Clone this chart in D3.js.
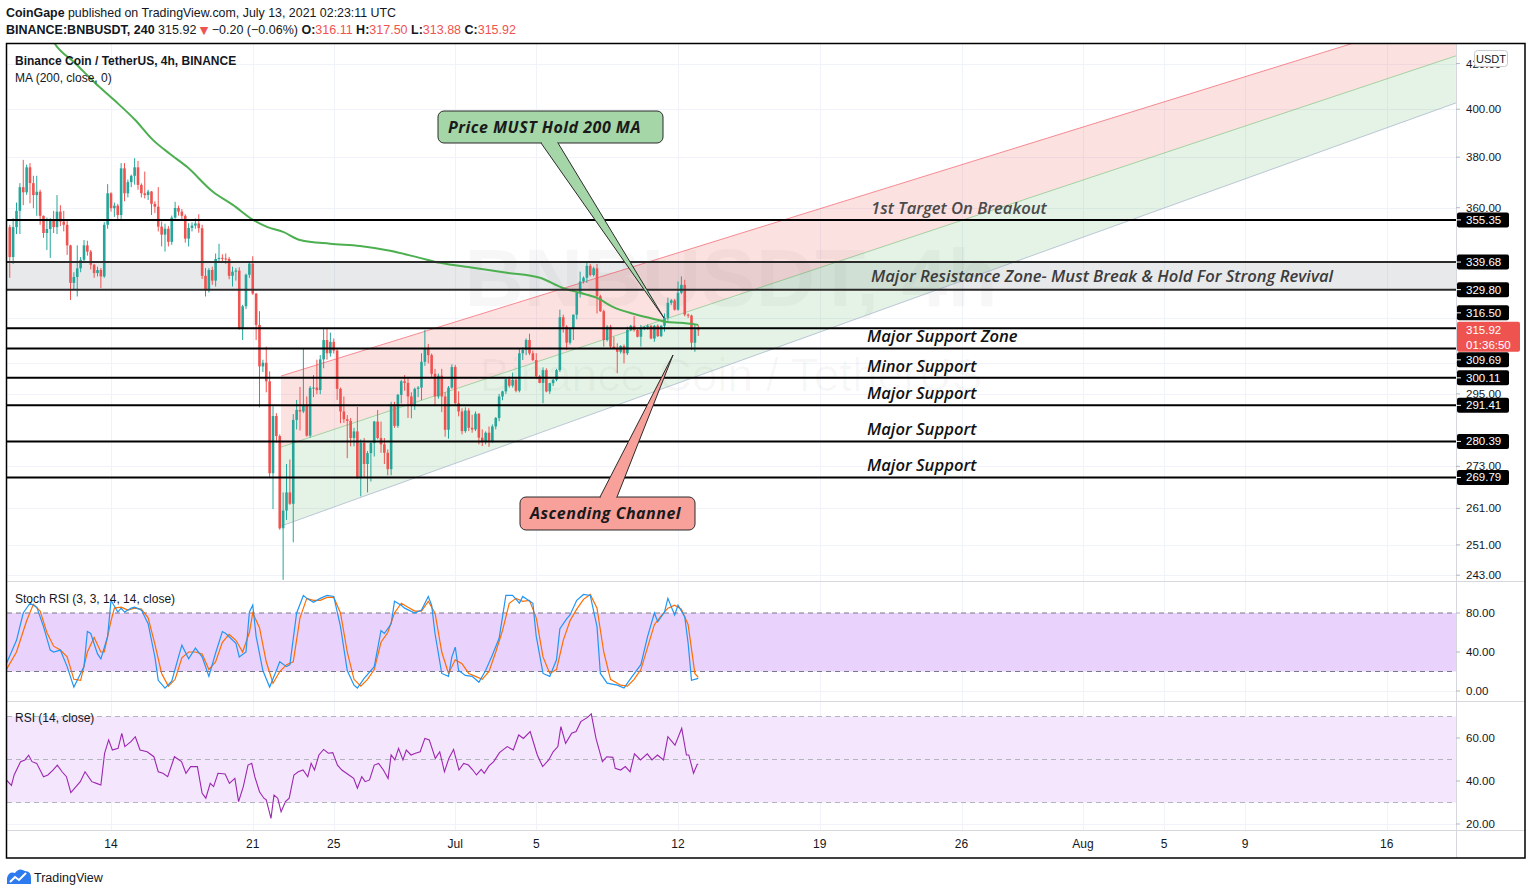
<!DOCTYPE html>
<html><head><meta charset="utf-8">
<script src="https://cdnjs.cloudflare.com/ajax/libs/d3/7.8.5/d3.min.js"></script>
<style>
html,body{margin:0;padding:0;background:#fff;}
svg{display:block;font-family:"Liberation Sans",Arial,sans-serif;}
</style></head><body>
<svg id="chart" width="1531" height="895"></svg>
<script>
// ---------------- DATA ----------------
const publisher = "CoinGape";
const publishedAt = "July 13, 2021 02:23:11 UTC";
const symbolLine = "BINANCE:BNBUSDT, 240";
const chartTitle = "Binance Coin / TetherUS, 4h, BINANCE";
const maTitle = "MA (200, close, 0)";
const stochTitle = "Stoch RSI (3, 3, 14, 14, close)";
const rsiTitle = "RSI (14, close)";
const lastChange = "\u22120.20 (\u22120.06%)";
const countdown = "01:36:50";
const candleStart = "2021-06-09T00:00:00Z";   // first 4h bar
const barHours = 4;

const opens = [
352.6,341.5,352.6,358.8,368.0,366.0,375.9,369.6,364.9,366.2,
356.9,350.4,351.9,355.4,352.6,358.5,354.7,353.5,345.8,332.2,
334.3,337.4,340.5,345.8,343.5,338.7,335.7,336.8,334.5,353.5,
365.6,359.8,360.8,357.2,375.5,365.6,370.0,372.5,375.9,368.9,
365.6,364.9,366.3,361.5,360.4,352.8,349.8,352.0,347.1,356.2,
359.9,358.5,356.9,348.3,352.3,353.2,354.0,352.2,334.7,329.5,
336.8,333.0,340.8,341.2,341.0,340.8,334.7,336.2,336.6,316.4,
324.0,335.1,339.1,328.4,317.6,303.8,305.0,299.0,271.0,288.1,
282.0,255.5,260.4,265.5,262.3,286.9,290.0,289.5,291.6,282.1,
296.9,297.0,296.2,306.1,312.5,308.1,311.9,309.0,296.6,289.5,
287.1,286.6,281.4,283.4,269.6,279.9,273.7,276.9,279.9,286.4,
281.4,279.5,277.0,272.2,291.6,285.1,294.7,299.0,298.5,294.2,
291.5,296.6,297.0,305.3,309.8,307.5,301.4,294.2,300.8,294.2,
283.9,297.0,303.6,292.1,289.5,283.5,289.8,284.5,284.0,288.8,
281.5,280.2,283.0,280.5,284.9,287.5,294.2,295.8,299.7,297.6,
299.5,296.0,308.1,309.2,312.5,308.1,305.9,300.6,298.5,302.6,
295.8,298.4,299.5,302.6,320.2,317.0,311.6,316.4,321.1,328.7,
332.7,334.0,338.3,335.0,337.4,327.5,322.3,312.5,317.0,310.3,
309.8,308.6,310.5,308.1,315.9,317.3,315.9,313.6,316.4,316.9,
317.3,313.0,317.3,313.8,317.3,320.0,325.2,326.0,322.8,328.7,
331.5,321.1,320.8,311.6,316.11];
const highs = [
353.5,356.0,362.0,369.6,378.9,377.0,377.6,372.5,372.5,367.0,
357.0,356.2,356.0,358.8,364.9,361.0,358.8,355.4,346.0,336.0,
345.8,341.5,347.8,347.5,344.1,339.0,338.0,337.5,354.5,369.2,
366.0,362.0,361.5,377.6,377.6,371.0,373.0,379.6,378.5,369.5,
374.2,367.0,366.5,362.5,368.0,354.7,353.9,353.0,357.0,362.3,
360.8,359.5,357.5,354.1,354.4,355.9,357.5,353.5,337.5,337.5,
338.0,342.8,346.4,342.5,342.8,341.5,338.0,337.5,337.8,324.5,
335.5,339.5,341.8,328.6,322.3,306.0,310.3,302.2,291.1,289.0,
282.5,265.5,273.7,275.0,288.7,293.1,297.2,309.8,294.2,297.5,
301.0,306.0,307.5,316.4,316.4,315.0,313.0,309.8,297.0,294.2,
288.4,287.5,284.5,290.9,281.0,281.4,277.5,280.5,286.6,290.0,
286.4,281.4,278.0,292.5,292.5,295.0,299.5,301.0,300.0,295.5,
297.0,297.5,308.1,315.9,311.2,308.0,303.0,301.5,303.0,295.5,
297.5,304.5,304.3,295.8,290.5,290.8,290.5,288.5,289.5,289.0,
284.0,283.4,284.9,285.5,287.8,295.0,296.0,300.0,300.5,301.8,
300.0,309.5,310.0,313.0,314.6,309.0,308.1,301.0,303.5,303.2,
298.5,299.8,303.0,322.8,321.1,317.5,316.5,321.1,329.3,336.2,
334.5,340.0,339.0,338.0,339.0,328.0,322.8,317.5,317.6,313.6,
311.4,310.8,311.0,317.0,317.6,320.6,316.5,317.6,317.2,317.8,
317.6,317.6,317.8,317.5,321.5,327.0,326.5,326.5,332.7,334.5,
333.3,321.5,321.1,317.6,317.5];
const lows = [
334.0,339.0,350.0,350.0,361.0,365.0,361.7,359.8,356.9,353.5,
348.6,344.1,341.2,350.4,350.0,353.0,351.0,342.3,326.2,330.0,
327.4,336.0,340.0,342.0,337.0,334.0,334.5,330.4,334.0,352.0,
358.5,356.5,355.0,355.0,362.5,364.0,368.0,369.0,367.0,364.0,
363.6,363.0,357.2,358.0,351.0,345.4,343.5,345.4,346.0,355.8,
357.0,355.5,346.8,345.4,351.0,352.0,350.5,333.6,327.4,328.8,
331.5,330.9,340.0,339.8,339.0,333.5,330.9,333.0,316.0,312.5,
323.0,334.0,328.0,312.5,290.8,302.0,295.5,269.6,260.8,280.0,
255.1,241.8,257.8,262.0,251.7,284.0,283.7,289.0,281.8,281.5,
294.0,294.9,294.9,303.2,306.0,307.0,308.0,293.1,285.9,286.0,
275.4,278.9,278.9,269.4,264.4,269.6,265.5,268.6,275.9,281.0,
277.0,273.7,270.4,270.4,284.5,284.5,292.0,296.0,287.5,287.4,
290.0,294.0,293.0,304.0,304.8,300.4,291.6,293.5,289.3,281.8,
281.2,296.6,291.5,288.0,282.5,283.0,283.5,283.0,283.5,279.5,
279.0,279.5,278.8,280.0,284.0,286.5,293.0,295.0,297.0,297.0,
295.5,295.5,305.9,307.5,307.5,305.5,299.7,298.4,292.1,295.5,
295.0,297.5,299.0,302.0,315.0,309.2,311.0,312.5,319.5,327.0,
332.0,332.2,334.5,334.5,321.5,322.0,310.3,312.0,309.8,309.5,
301.6,308.0,304.8,307.5,315.5,315.3,313.4,310.3,315.8,316.0,
312.8,311.9,313.5,313.5,315.3,319.0,324.5,322.5,322.5,328.2,
320.5,320.0,309.2,308.6,313.88];
const closes = [
341.5,352.6,358.8,368.0,366.0,375.9,369.6,364.9,366.2,356.9,
350.4,351.9,355.4,352.6,358.5,354.7,353.5,345.8,332.2,334.3,
337.4,340.5,345.8,343.5,338.7,335.7,336.8,334.5,353.5,365.6,
359.8,360.8,357.2,375.5,365.6,370.0,372.5,375.9,368.9,365.6,
364.9,366.3,361.5,360.4,352.8,349.8,352.0,347.1,356.2,359.9,
358.5,356.9,348.3,352.3,353.2,354.0,352.2,334.7,329.5,336.8,
333.0,340.8,341.2,341.0,340.8,334.7,336.2,336.6,316.4,324.0,
335.1,339.1,328.4,317.6,303.8,305.0,299.0,271.0,288.1,282.0,
255.5,260.4,265.5,262.3,286.9,290.0,289.5,291.6,282.1,296.9,
297.0,296.2,306.1,312.5,308.1,311.9,309.0,296.6,289.5,287.1,
286.6,281.4,283.4,269.6,279.9,273.7,276.9,279.9,286.4,281.4,
279.5,277.0,272.2,291.6,285.1,294.7,299.0,298.5,294.2,291.5,
296.6,297.0,305.3,309.8,307.5,301.4,294.2,300.8,294.2,283.9,
297.0,303.6,292.1,289.5,283.5,289.8,284.5,284.0,288.8,281.5,
280.2,283.0,280.5,284.9,287.5,294.2,295.8,299.7,297.6,299.5,
296.0,308.1,309.2,312.5,308.1,305.9,300.6,298.5,302.6,295.8,
298.4,299.5,302.6,320.2,317.0,311.6,316.4,321.1,328.7,332.7,
334.0,338.3,335.0,337.4,327.5,322.3,312.5,317.0,310.3,309.8,
308.6,310.5,308.1,315.9,317.3,315.9,313.6,316.4,316.9,317.3,
313.0,317.3,313.8,317.3,320.0,325.2,326.0,322.8,328.7,331.5,
321.1,320.8,311.6,316.1,315.92];

// 200 MA readings: [bar index, price]
const ma200 = [[9,442.4],[13.4,428.9],[19.3,420.3],[25.3,411.4],[31.2,403.6],[37.1,395.5],[42.4,387.1],[47.5,381.3],[52.5,376.1],[60.2,366.2],[66.1,361.1],[72.1,355.35],[76.2,352.7],[81,350.8],[86,347.8],[94.9,346.4],[103.8,345.6],[112.7,343.8],[121.5,341.2],[127.5,339.4],[137.3,337.6],[147.3,335.8],[157.1,334.0],[163.9,330.4],[168.9,328.7],[174,326.9],[178.7,323.8],[184.7,321.4],[190.6,319.7],[194.7,318.6],[198.6,318.3],[204,317.6]];

// Stoch RSI %K and %D readings: [bar index, value]
const stochK = [[-1,28],[2,52],[4,80],[6,90],[8,86],[10,66],[12,42],[13,40],[15,42],[17,25],[19,4],[20,11],[22,25],[23,61],[24,59],[26,38],[27,33],[29,56],[30,93],[32,81],[33,85],[34,81],[36,85],[37,86],[39,83],[41,69],[43,35],[44,11],[46,3],[48,10],[50,35],[51,47],[53,33],[55,44],[57,35],[59,15],[61,39],[63,61],[64,59],[67,49],[68,35],[70,40],[71,81],[72,88],[73,56],[75,21],[77,4],[79,21],[80,30],[82,25],[83,27],[85,80],[87,98],[88,95],[90,91],[92,95],[94,98],[96,97],[98,66],[100,21],[102,6],[103,3],[105,13],[108,25],[110,62],[111,59],[113,69],[114,92],[116,88],[117,85],[120,80],[122,83],[124,97],[125,88],[126,59],[128,18],[130,15],[131,35],[132,45],[133,21],[135,16],[137,15],[139,9],[141,21],[143,37],[145,54],[146,76],[147,98],[149,98],[151,90],[152,97],[155,90],[156,56],[158,18],[160,15],[162,32],[163,64],[165,74],[166,78],[168,93],[170,99],[172,98],[174,66],[175,18],[177,8],[180,6],[182,3],[184,13],[187,27],[189,56],[191,80],[192,71],[194,81],[195,95],[197,78],[198,88],[200,76],[201,49],[202,11],[204,13]];
const stochD = [[-1,22],[2,40],[5,72],[7,89],[9,82],[11,60],[13,46],[15,42],[17,35],[19,12],[21,11],[23,40],[25,55],[27,40],[28,40],[30,72],[31,85],[33,86],[35,83],[37,85],[39,84],[41,75],[43,48],[45,18],[47,5],[49,12],[51,34],[53,40],[55,40],[57,38],[59,22],[61,30],[63,50],[65,58],[67,52],[69,40],[71,60],[72,80],[74,65],[76,30],[78,8],[80,20],[82,27],[84,30],[86,75],[88,95],[90,93],[92,93],[94,96],[96,96],[98,80],[100,40],[102,12],[104,5],[106,12],[108,22],[110,50],[112,60],[114,80],[116,90],[118,86],[120,82],[122,82],[124,92],[126,80],[128,40],[130,18],[132,32],[134,28],[136,18],[138,15],[140,12],[142,20],[144,40],[146,62],[148,90],[150,95],[152,92],[154,93],[156,75],[158,35],[160,18],[162,22],[164,52],[166,72],[168,84],[170,94],[172,99],[174,85],[176,40],[178,12],[181,6],[183,5],[185,12],[187,22],[189,45],[191,68],[193,77],[195,85],[197,88],[199,84],[201,68],[203,18],[204,14]];
// RSI(14) readings: [bar index, value]
const rsi14 = [[-1,40.5],[0.5,38],[1.3,42.8],[3.2,49],[4.5,49.8],[5.6,52],[6.6,49],[8,48.2],[10,42],[11.3,42.8],[12.8,45.1],[14.1,47.4],[15.5,44.3],[16.8,42],[18.1,34.6],[20.9,39.7],[22.3,44.3],[24.3,39.7],[25.7,38.9],[27,38.1],[28.1,52.9],[29.3,59.1],[30.4,54.4],[32.1,55.2],[33.2,62.2],[34.1,56],[35.9,58.3],[37.2,60.6],[38.6,54.4],[40.7,53.6],[42.7,51.3],[44,44.3],[45.4,43.6],[46.8,42],[48.8,51.3],[50.9,49],[52.2,43.6],[53.6,46.7],[55.6,46.7],[57,34.3],[58.1,32],[59.4,38.9],[60.4,37.4],[61.7,43.6],[63.8,43.3],[65.1,38.9],[66.7,41.2],[67.8,30.4],[69.2,37.4],[70.6,47.4],[71.7,48.2],[72.6,42],[74,35],[75.3,32],[76,31.2],[77.4,22.6],[78.3,33.5],[79.4,32],[80.4,25.7],[81.7,30.4],[82.8,32],[84.2,42.8],[85.5,44.3],[86.9,45.1],[88.3,42],[89.3,48.2],[90.3,45.1],[91.6,52.1],[93,54.7],[94.4,52.9],[95.7,53.2],[97.1,47.4],[98.4,45.1],[100.5,42.8],[101.9,41.2],[103,36.6],[104.3,42],[105.3,39.7],[106.6,40.5],[108,47.4],[109.3,48.2],[110.7,45.1],[112.1,41.2],[113,52.1],[114.1,49.8],[115.2,55.2],[116.5,49.8],[117.5,54.4],[118.9,52.1],[120.2,52.9],[121.6,53.6],[123,59.8],[124.3,59.1],[126.1,50.5],[127.4,53.6],[128.8,44.3],[130.1,50.5],[131.5,54.7],[133.1,45.1],[134.5,48.2],[135.9,47.4],[137.2,45.1],[138.3,42.8],[139.7,45.4],[140.6,43.6],[142,47],[143.4,49],[145.1,53.2],[147.4,56],[149.2,54.4],[150.8,61.4],[152.2,59.8],[154.2,63],[156.3,52.1],[157.9,46.7],[159.7,49.8],[161,53.6],[162.4,56],[163.3,65.3],[164.7,57.5],[166.5,62.2],[167.8,63],[169.2,67.6],[171.2,69.6],[172.3,71.2],[173.7,59.8],[175.6,49],[176.9,51.3],[178.7,51],[179.4,45.9],[181,45.1],[182.4,46.7],[183.8,44.3],[185.1,52.6],[186.9,49.8],[188.9,52.6],[190.3,49.8],[191.9,52.1],[193.7,49.8],[195,60.6],[197.1,56.7],[199.1,64.5],[200.5,52.1],[201.2,52.1],[202.6,43.6],[203.7,47.8],[204,47.8]];

// Horizontal level lines (price)
const levels = [355.35, 339.68, 329.80, 316.50, 309.69, 300.11, 291.41, 280.39, 269.79];
const resistanceZone = [329.80, 339.68];
const lastPrice = 315.92;
// Ascending channel: [start date, end date], prices of upper / middle / lower lines
const channelDates = ["2021-06-22T09:30:00Z", "2021-08-19T10:00:00Z"];
const channelUpper = [300.7, 444.2];
const channelMiddle = [278.7, 423.5];
const channelLower = [256.1, 402.7];
// Axis ticks
const priceTicks = [420, 400, 380, 360, 340, 320, 305, 295, 273, 261, 251, 243];
const stochTicks = [80, 40, 0];
const rsiTicks = [60, 40, 20];
const timeTickDates = ["2021-06-14","2021-06-21","2021-06-25","2021-07-01","2021-07-05","2021-07-12","2021-07-19","2021-07-26","2021-08-01","2021-08-05","2021-08-09","2021-08-16"];
const timeTickLabels = ["14","21","25","Jul","5","12","19","26","Aug","5","9","16"];
// Text annotations: text sits just above the line at "price" (or centred in the zone)
const levelNotes = [
  {text:"1st Target On Breakout", price:355.35, color:"#4a4a4a"},
  {text:"Major Resistance Zone- Must Break & Hold For Strong Revival", price:334.7, color:"#3c3c3c", mid:true},
  {text:"Major Support Zone", price:309.69, color:"#111"},
  {text:"Minor Support", price:300.11, color:"#111"},
  {text:"Major Support", price:291.41, color:"#111"},
  {text:"Major Support", price:280.39, color:"#111"},
  {text:"Major Support", price:269.79, color:"#111"}
];
const calloutMA = "Price MUST Hold 200 MA";
const calloutChannel = "Ascending Channel";
const ohlcLast = {O:"316.11", H:"317.50", L:"313.88", C:"315.92"};

// ---------------- LAYOUT ----------------
const L = 7, R = 1456, T = 44, PB = 581;
const ST = 582, SB = 700, RT = 702, RB = 830, XB = 858, FR = 1525;
const DAY = 864e5;
const day0 = Date.UTC(2021,5,14), x0 = 111, pxDay = 20.25;
const x = d3.scaleTime()
  .domain([new Date(day0 - (x0 - L) / pxDay * DAY), new Date(day0 + (R - x0) / pxDay * DAY)])
  .range([L, R]);
const y = d3.scaleLog().domain([241.5, 428.9]).range([PB, T]);
const ys = d3.scaleLinear().domain([0, 80]).range([691, 613]);
const yr = d3.scaleLinear().domain([20, 60]).range([824, 738]);
const t0 = Date.parse(candleStart);
const barTime = b => new Date(t0 + b * barHours * 3600e3);
const xb = b => x(barTime(b));

const svg = d3.select("#chart");
const defs = svg.append("defs");
function clip(id, x1, y1, x2, y2) {
  defs.append("clipPath").attr("id", id).append("rect")
    .attr("x", x1).attr("y", y1).attr("width", x2 - x1).attr("height", y2 - y1);
}
clip("cMain", L, T, R, PB); clip("cSt", L, ST, R, SB); clip("cRsi", L, RT, R, RB);

svg.append("rect").attr("width", 1531).attr("height", 895).attr("fill", "#fff");

// Header
const h1 = svg.append("text").attr("x", 6).attr("y", 17).attr("font-size", 12.4).attr("fill", "#131722");
h1.append("tspan").attr("font-weight", "bold").text(publisher);
h1.append("tspan").text(" published on TradingView.com, " + publishedAt);
const h2 = svg.append("text").attr("x", 6).attr("y", 34).attr("font-size", 12.5).attr("fill", "#131722");
h2.append("tspan").attr("font-weight", "bold").text(symbolLine);
h2.append("tspan").text("  " + lastPrice.toFixed(2) + " ");
h2.append("tspan").attr("fill", "#ef5350").attr("font-family", "DejaVu Sans").attr("font-size", 11).text("\u25BC");
h2.append("tspan").text(" " + lastChange + " ");
Object.entries(ohlcLast).forEach(([k, v], i) => {
  h2.append("tspan").attr("font-weight", "bold").text((i ? " " : "") + k + ":");
  h2.append("tspan").attr("fill", "#ef5350").text(v);
});

// Grid
const gGrid = svg.append("g").attr("stroke", "#f0f3fa").attr("stroke-width", 1);
timeTickDates.forEach(d => {
  const xx = Math.round(x(new Date(d + "T00:00:00Z"))) + 0.5;
  gGrid.append("line").attr("x1", xx).attr("x2", xx).attr("y1", T).attr("y2", RB);
});
priceTicks.forEach(p => {
  const yy = Math.round(y(p)) + 0.5;
  gGrid.append("line").attr("x1", L).attr("x2", R).attr("y1", yy).attr("y2", yy);
});
[40, 0].forEach(v => { const yy = Math.round(ys(v)) + 0.5; gGrid.append("line").attr("x1", L).attr("x2", R).attr("y1", yy).attr("y2", yy); });
rsiTicks.forEach(v => { const yy = Math.round(yr(v)) + 0.5; gGrid.append("line").attr("x1", L).attr("x2", R).attr("y1", yy).attr("y2", yy); });

// Main pane
const main = svg.append("g").attr("clip-path", "url(#cMain)");
// watermark
main.append("text").attr("x", 731).attr("y", 306).attr("text-anchor", "middle")
  .attr("font-size", 82).attr("font-weight", "bold").attr("fill", "rgba(0,0,0,0.03)").text("BNBUSDT, 4h");
main.append("text").attr("x", 731).attr("y", 391).attr("text-anchor", "middle")
  .attr("font-size", 46).attr("fill", "rgba(0,0,0,0.03)").text("Binance Coin / TetherUS");

// resistance zone
main.append("rect").attr("x", L).attr("width", R - L)
  .attr("y", y(resistanceZone[1])).attr("height", y(resistanceZone[0]) - y(resistanceZone[1]))
  .attr("fill", "rgba(120,123,134,0.17)");

// channel
const cd = channelDates.map(d => new Date(d));
const P = (d, p) => [x(d), y(p)];
const poly = pts => "M" + pts.map(p => p.join(",")).join("L") + "Z";
main.append("path").attr("d", poly([P(cd[0], channelUpper[0]), P(cd[1], channelUpper[1]), P(cd[1], channelMiddle[1]), P(cd[0], channelMiddle[0])]))
  .attr("fill", "rgba(235,77,77,0.17)");
main.append("path").attr("d", poly([P(cd[0], channelMiddle[0]), P(cd[1], channelMiddle[1]), P(cd[1], channelLower[1]), P(cd[0], channelLower[0])]))
  .attr("fill", "rgba(76,175,80,0.15)");
[[channelUpper, "rgba(242,54,69,0.55)"], [channelMiddle, "rgba(76,175,80,0.45)"], [channelLower, "rgba(150,165,195,0.6)"]].forEach(([c, col]) => {
  main.append("line").attr("x1", x(cd[0])).attr("y1", y(c[0])).attr("x2", x(cd[1])).attr("y2", y(c[1]))
    .attr("stroke", col).attr("stroke-width", 1);
});

// candles
const gC = main.append("g");
closes.forEach((c, i) => {
  const o = opens[i], hi = highs[i], lo = lows[i];
  const cx = xb(i);
  const col = c >= o ? "#26a69a" : "#ef5350";
  gC.append("line").attr("x1", cx).attr("x2", cx).attr("y1", y(hi)).attr("y2", y(lo)).attr("stroke", col).attr("stroke-width", 1);
  const yt = y(Math.max(o, c)), yb = y(Math.min(o, c));
  gC.append("rect").attr("x", cx - 1.3).attr("width", 2.6).attr("y", yt).attr("height", Math.max(1, yb - yt)).attr("fill", col);
});

// MA
main.append("path").datum(ma200)
  .attr("d", d3.line().x(d => xb(d[0])).y(d => y(d[1])).curve(d3.curveMonotoneX))
  .attr("fill", "none").attr("stroke", "#4caf50").attr("stroke-width", 2);

// level lines
levels.forEach(p => {
  const zoneEdge = resistanceZone.includes(p);
  main.append("line").attr("x1", L).attr("x2", R).attr("y1", y(p)).attr("y2", y(p))
    .attr("stroke", zoneEdge ? "#2a2a2a" : "#000").attr("stroke-width", 2);
});

// level annotations
const noteX = 867;
levelNotes.forEach((n, i) => {
  const yy = n.mid ? y(n.price) + 6 : y(n.price) - 6;
  main.append("text").attr("x", noteX + (i < 2 ? 4 : 0)).attr("y", yy)
    .attr("font-family", "'Open Sans', sans-serif").attr("font-style", "italic").attr("font-weight", 600)
    .attr("font-size", 16.6).attr("fill", n.color).text(n.text);
});

// callouts
function callout(text, box, base, tip, fill) {
  const g = main.append("g");
  g.append("rect").attr("x", box[0]).attr("y", box[1]).attr("width", box[2]).attr("height", box[3]).attr("rx", 6)
    .attr("fill", fill).attr("stroke", "#2b2b2b").attr("stroke-width", 1);
  g.append("path").attr("d", `M${base[0]},${base[2]}L${tip[0]},${tip[1]}L${base[1]},${base[2]}`)
    .attr("fill", fill).attr("stroke", "#2b2b2b").attr("stroke-width", 1);
  g.append("line").attr("x1", base[0] + 1).attr("x2", base[1] - 1).attr("y1", base[2]).attr("y2", base[2])
    .attr("stroke", fill).attr("stroke-width", 2);
  g.append("text").attr("x", box[0] + 10).attr("y", box[1] + box[3] / 2 + 5.5)
    .attr("font-family", "'Open Sans', sans-serif").attr("font-style", "italic").attr("font-weight", 700)
    .attr("font-size", 16).attr("letter-spacing", 0.5).attr("fill", "#1a1a1a").text(text);
}
callout(calloutMA, [438, 111, 225, 32], [541, 558, 143], [664, 318], "#a5d6a7");
callout(calloutChannel, [520, 497, 175, 33], [600, 617, 497], [673, 355], "#f7a19a");

// Chart legend texts
svg.append("text").attr("x", 15).attr("y", 65).attr("font-size", 12).attr("font-weight", "bold").attr("fill", "#131722").text(chartTitle);
svg.append("text").attr("x", 15).attr("y", 82).attr("font-size", 12).attr("fill", "#131722").text(maTitle);

// Stoch pane
const st = svg.append("g").attr("clip-path", "url(#cSt)");
st.append("rect").attr("x", L).attr("width", R - L).attr("y", ys(80)).attr("height", ys(20) - ys(80)).attr("fill", "#e9d3fc");
[80, 20].forEach(v => st.append("line").attr("x1", L).attr("x2", R).attr("y1", ys(v)).attr("y2", ys(v))
  .attr("stroke", "#787b86").attr("stroke-dasharray", "5,4").attr("stroke-width", 1));
const lineS = d3.line().x(d => xb(d[0])).y(d => ys(d[1]));
st.append("path").datum(stochD).attr("d", lineS).attr("fill", "none").attr("stroke", "#ff6d00").attr("stroke-width", 1.2);
st.append("path").datum(stochK).attr("d", lineS).attr("fill", "none").attr("stroke", "#2196f3").attr("stroke-width", 1.2);
svg.append("text").attr("x", 15).attr("y", 603).attr("font-size", 12).attr("fill", "#131722").text(stochTitle);

// RSI pane
const rp = svg.append("g").attr("clip-path", "url(#cRsi)");
rp.append("rect").attr("x", L).attr("width", R - L).attr("y", yr(70)).attr("height", yr(30) - yr(70)).attr("fill", "#f4e6fd");
[70, 50, 30].forEach(v => rp.append("line").attr("x1", L).attr("x2", R).attr("y1", yr(v)).attr("y2", yr(v))
  .attr("stroke", "#b2b5be").attr("stroke-dasharray", "5,4").attr("stroke-width", 1));
rp.append("path").datum(rsi14).attr("d", d3.line().x(d => xb(d[0])).y(d => yr(d[1])))
  .attr("fill", "none").attr("stroke", "#9c27b0").attr("stroke-width", 1.1);
svg.append("text").attr("x", 15).attr("y", 722).attr("font-size", 12).attr("fill", "#131722").text(rsiTitle);

// pane separators & frame
const sep = svg.append("g").attr("stroke", "#d6d8de").attr("stroke-width", 1);
[PB + 0.5, RT - 0.5, RB + 0.5].forEach(yy => sep.append("line").attr("x1", L).attr("x2", FR).attr("y1", yy).attr("y2", yy));
sep.append("line").attr("x1", R + 0.5).attr("x2", R + 0.5).attr("y1", T).attr("y2", XB);

// level label positions with collision avoidance around the last price box
const lastY = y(lastPrice);
const boxTop = lastY - 8, boxBot = lastY + 22;
const above = levels.filter(p => p > lastPrice).sort((a, b) => a - b);
const below = levels.filter(p => p < lastPrice).sort((a, b) => b - a);
const lab = [];
let lim = boxTop;
above.forEach(p => { let yy = Math.min(y(p), lim - 9); lab.push([p, yy]); lim = yy - 7.5; });
lim = boxBot;
below.forEach(p => { let yy = Math.max(y(p), lim + 8); lab.push([p, yy]); lim = yy + 7.5; });

// Price axis labels (a tick label fully covered by a level label is not drawn)
const ax = svg.append("g").attr("font-size", 11.5).attr("fill", "#131722");
function tickMark(yy, col) { svg.append("line").attr("x1", R).attr("x2", R + 4).attr("y1", yy).attr("y2", yy).attr("stroke", col || "#131722"); }
priceTicks.forEach(p => {
  const yy = y(p); tickMark(yy, "#b2b5be");
  const covered = lab.some(([, ly]) => Math.abs(ly - yy) < 7) || (yy > boxTop - 3 && yy < boxBot + 3);
  if (!covered) ax.append("text").attr("x", 1466).attr("y", yy + 4).text(p.toFixed(2));
});
stochTicks.forEach(v => { const yy = ys(v); tickMark(yy, "#b2b5be"); ax.append("text").attr("x", 1466).attr("y", yy + 4).text(v.toFixed(2)); });
rsiTicks.forEach(v => { const yy = yr(v); tickMark(yy, "#b2b5be"); ax.append("text").attr("x", 1466).attr("y", yy + 4).text(v.toFixed(2)); });

lab.forEach(([p, yy]) => {
  svg.append("rect").attr("x", R + 1).attr("y", yy - 7.5).attr("width", 52).attr("height", 15).attr("rx", 2).attr("fill", "#000");
  svg.append("line").attr("x1", R).attr("x2", R + 5).attr("y1", yy).attr("y2", yy).attr("stroke", "#fff");
  svg.append("text").attr("x", 1466).attr("y", yy + 4).attr("font-size", 11.5).attr("fill", "#fff").text(p.toFixed(2));
});
svg.append("rect").attr("x", R + 1).attr("y", boxTop).attr("width", 63).attr("height", 30).attr("rx", 2).attr("fill", "#ef5350");
svg.append("text").attr("x", 1466).attr("y", lastY + 4.5).attr("font-size", 11.5).attr("fill", "#fff").text(lastPrice.toFixed(2));
svg.append("text").attr("x", 1466).attr("y", lastY + 19).attr("font-size", 11.5).attr("fill", "#fff").text(countdown);
// currency badge
svg.append("rect").attr("x", 1474.5).attr("y", 50.5).attr("width", 33).attr("height", 16).attr("rx", 3)
  .attr("fill", "#fff").attr("stroke", "#c9cbd2");
svg.append("text").attr("x", 1491).attr("y", 62.5).attr("text-anchor", "middle").attr("font-size", 11).attr("fill", "#131722").text("USDT");

// Time axis
timeTickDates.forEach((d, i) => {
  svg.append("text").attr("x", x(new Date(d + "T00:00:00Z"))).attr("y", 848).attr("text-anchor", "middle")
    .attr("font-size", 12).attr("fill", "#131722").text(timeTickLabels[i]);
});

// outer frame
svg.append("rect").attr("x", 6.5).attr("y", 43.5).attr("width", FR - 6.5).attr("height", XB - 43.5)
  .attr("fill", "none").attr("stroke", "#000").attr("stroke-width", 1.5);

// footer logo
const lg = svg.append("g");
lg.append("path").attr("d", "M7,884 L7,878 Q9,871 15,873 Q19,867 25,871 Q31,871 31,878 L31,884 Z").attr("fill", "#2e7bf0");
lg.append("path").attr("d", "M10,882 L15,877 L19,880 L26,873").attr("fill", "none").attr("stroke", "#fff").attr("stroke-width", 2);
svg.append("text").attr("x", 34).attr("y", 882).attr("font-size", 12.5).attr("fill", "#131722").text("TradingView");
</script>
</body></html>
